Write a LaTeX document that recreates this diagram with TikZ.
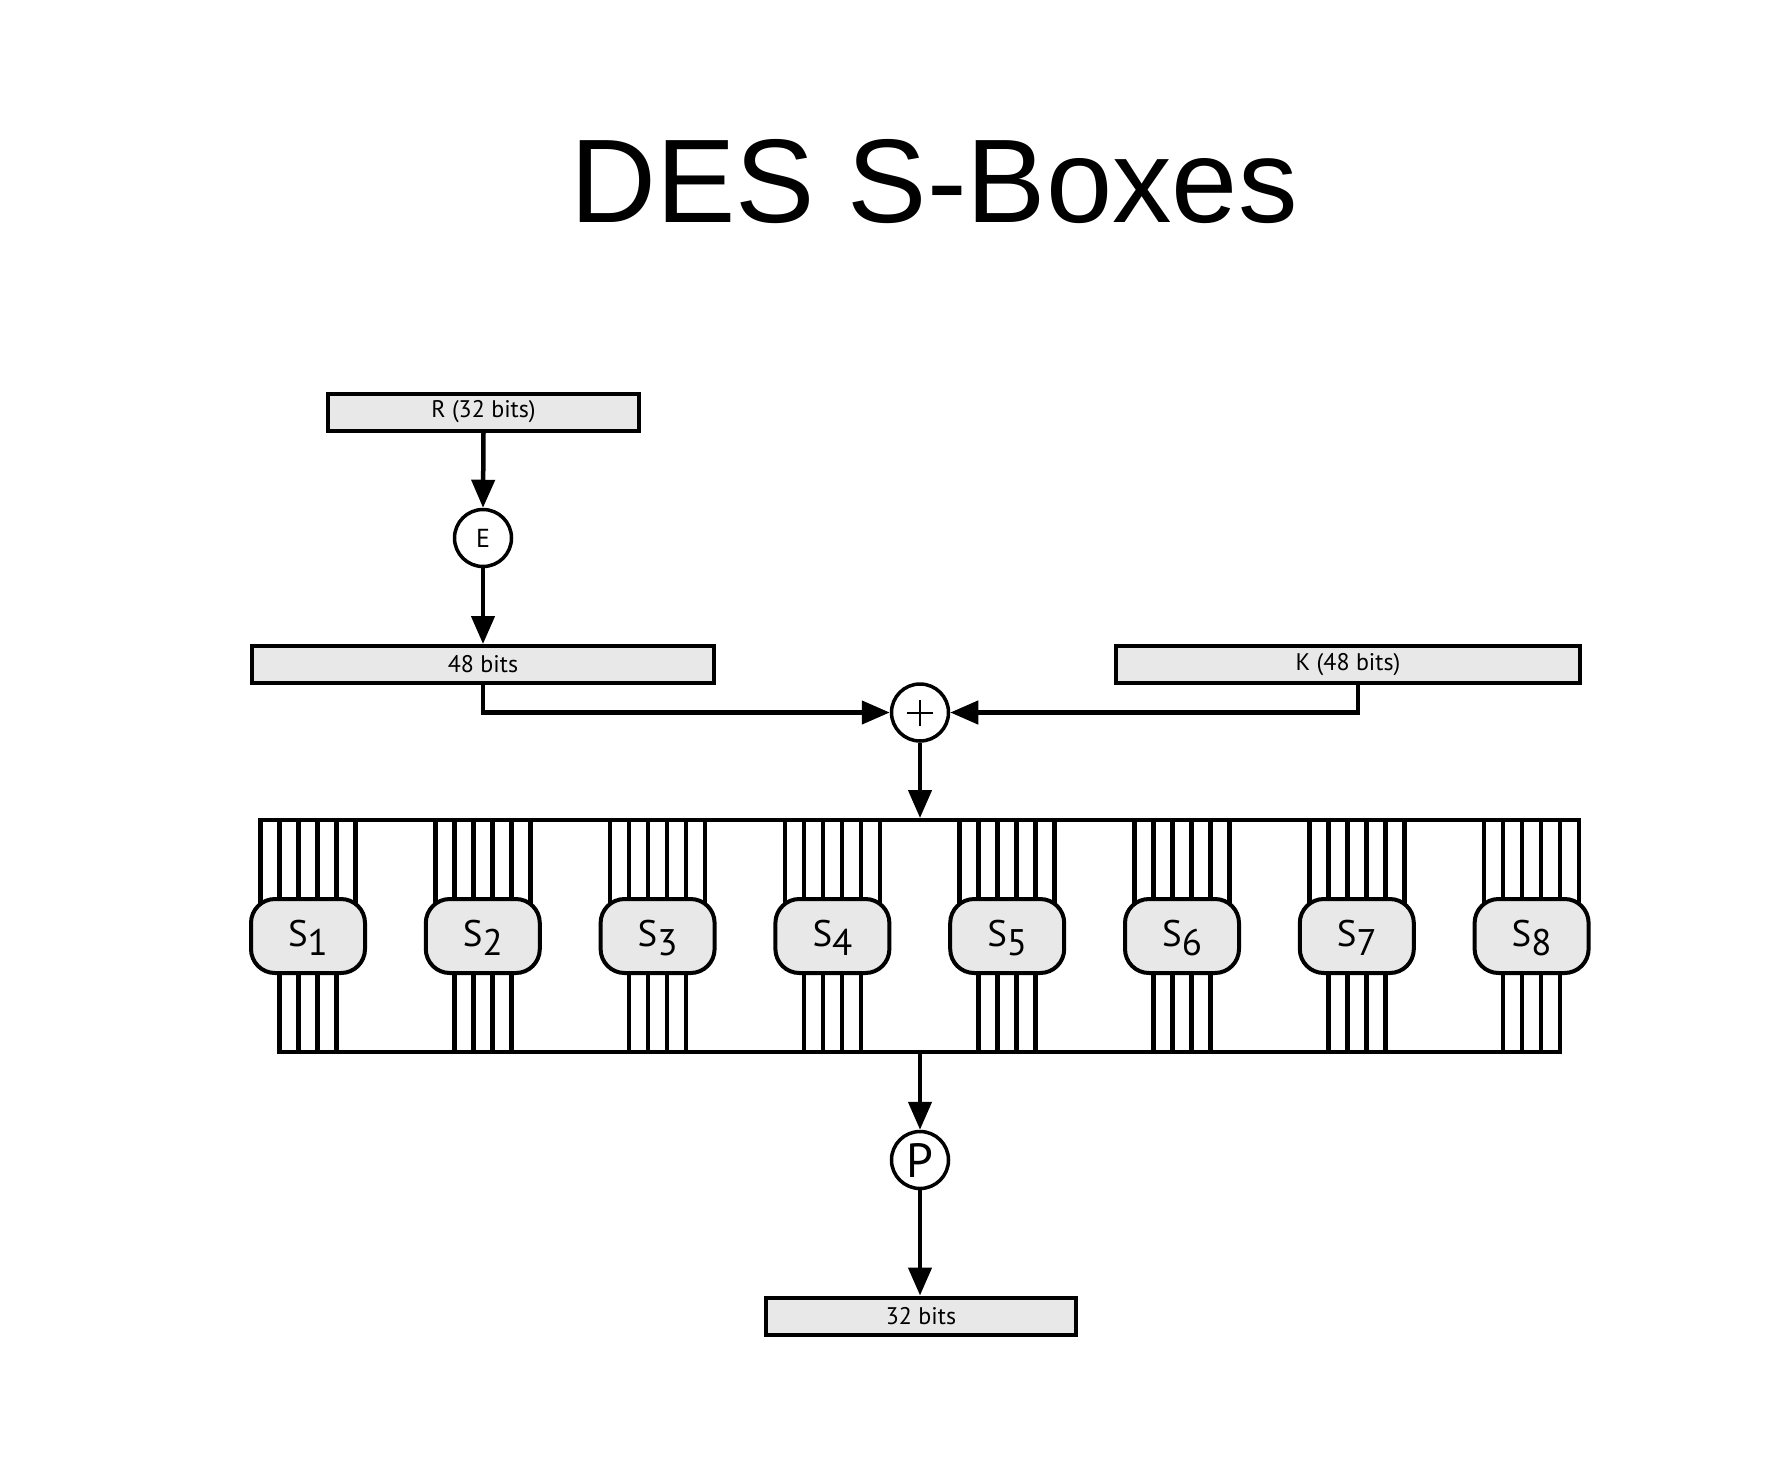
\documentclass[tikz,border=0pt]{standalone}
\usepackage{fontspec}
\setmainfont{Liberation Sans}
\newfontfamily\lblfont{PT Sans}
\usetikzlibrary{arrows.meta,backgrounds}
\definecolor{boxgray}{RGB}{232,232,232}
\begin{document}
\begin{tikzpicture}[x=1pt,y=-1pt,
  wire/.style={line width=4.5pt},
  arr/.style={line width=4.5pt,-{Triangle[length=28pt,width=23pt]}},
  bitbox/.style={draw,line width=4pt,fill=boxgray,minimum height=37pt,inner sep=0pt,
    font=\lblfont\fontsize{24}{24}\selectfont},
  sbox/.style={draw,line width=4pt,fill=boxgray,rounded corners=24pt,
    minimum width=114pt,minimum height=74pt,inner sep=0pt},
  op/.style={circle,draw,line width=3.5pt,fill=white,minimum size=57pt,inner sep=0pt},
  slabel/.style={inner sep=0pt,font=\lblfont\fontsize{37}{37}\selectfont}]
\useasboundingbox (0,0) rectangle (1788,1478);

% title
\node[anchor=base,font=\fontsize{119}{120}\selectfont] (title) at (934,222) {DES S-Boxes};

% boxes and operators
\node[bitbox,minimum width=311pt] (rbox) at (483.5,412) {R (32 bits)};
\node[op,font=\lblfont\fontsize{26}{26}\selectfont] (E) at (483,538) {E};
\node[bitbox,minimum width=462pt] (b48) at (483,664.5) {48 bits};
\node[bitbox,minimum width=464pt] (kbox) at (1348,664.5) {K (48 bits)};
\node[op] (plus) at (920,712.5) {};
\draw[line width=2pt] ([xshift=-13pt]plus.center) -- ([xshift=13pt]plus.center);
\draw[line width=2pt] ([yshift=-13pt]plus.center) -- ([yshift=13pt]plus.center);
\node[op,font=\lblfont\fontsize{48}{48}\selectfont] (P) at (920,1160) {P};
\node[bitbox,minimum width=310pt] (b32) at (921,1316) {32 bits};

% S-boxes
\foreach \i in {1,...,8} {
  \pgfmathsetmacro\cx{308+174.8*(\i-1)}
  \node[sbox] (s\i) at (\cx,936) {};
  \node[slabel,anchor=base] (l\i) at ([yshift=-10pt]s\i.center) {S\raisebox{-9pt}{\i}};
}

\begin{scope}[on background layer]
  \fill[white] (0,0) rectangle (1788,1478);
  \foreach \i in {1,...,8} {
    \foreach \d in {-47.5,-28.5,-9.5,9.5,28.5,47.5}
      \draw[wire] ([xshift=\d pt]s\i.center) -- ++(0,-116);
    \foreach \d in {-28.5,-9.5,9.5,28.5}
      \draw[wire] ([xshift=\d pt]s\i.center) -- ++(0,116);
  }
  \draw[wire] ([xshift=-47.5pt]s1.center) -- ++(0,-116) -| ([xshift=47.5pt]s8.center);
  \draw[wire] ([xshift=-28.5pt]s1.center) -- ++(0,116) -| ([xshift=28.5pt]s8.center);
\end{scope}

\coordinate (tbin) at (920,818);
\coordinate (tbout) at (920,1052);

% connectors
\draw[arr] (rbox.south) -- (E.north);
\draw[arr] (E.south) -- (b48.north -| E.south);
\draw[arr] (b48.south) |- (plus.west);
\draw[arr] ([xshift=10pt]kbox.south) |- (plus.east);
\draw[arr] (plus.south) -- (tbin);
\draw[arr] (tbout) -- (P.north);
\draw[arr] (P.south) -- (b32.north -| P.south);
\end{tikzpicture}
\end{document}
